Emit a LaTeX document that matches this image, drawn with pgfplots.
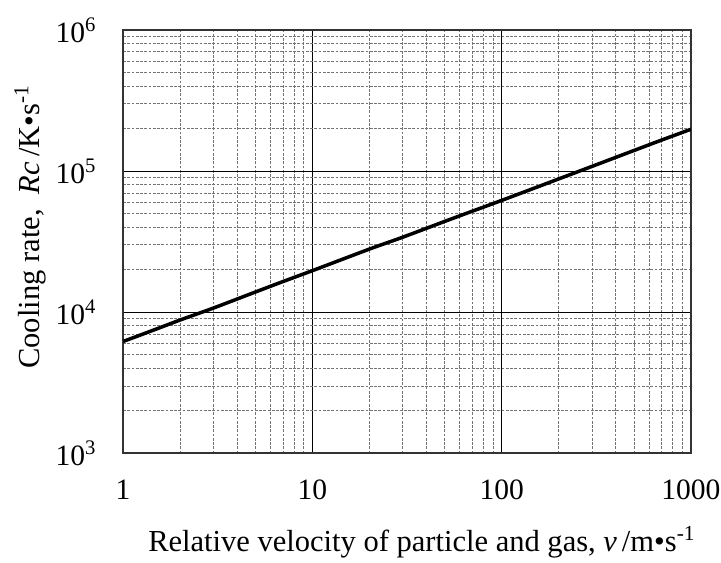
\documentclass[border=0pt]{standalone}
\usepackage{fontspec}
\setmainfont{Liberation Serif}
\usepackage{pgfplots}
\pgfplotsset{compat=1.18}
\begin{document}
\begin{tikzpicture}
\begin{loglogaxis}[
  scale only axis,
  width=227pt, height=169.2pt,
  xmin=1, xmax=1000, ymin=1e3, ymax=1e6,
  xtick={1,10,100,1000},
  xticklabels={1,10,100,1000},
  ytick={1e3,1e4,1e5,1e6},
  yticklabels={10\textsuperscript{3},10\textsuperscript{4},10\textsuperscript{5},10\textsuperscript{6}},
  major tick length=0pt, minor tick length=0pt,
  grid=both,
  major grid style={black, line width=0.45pt},
  minor grid style={gray!90!black, dash pattern=on 1.1pt off 0.6pt, line width=0.35pt},
  axis line style={gray!40!black, line width=0.9pt},
  tick label style={font=\fontsize{11.8}{13}\selectfont},
  xticklabel style={yshift=-7pt},
  yticklabel style={xshift=-7pt},
  label style={font=\fontsize{12.2}{14}\selectfont},
  xlabel={Relative velocity of particle and gas, \textit{v}\,/m•s\textsuperscript{-1}},
  ylabel={Cooling rate,\ \ \textit{Rc}\,/K•s\textsuperscript{-1}},
  xlabel style={yshift=-4pt, xshift=6pt},
  ylabel style={yshift=-3pt, xshift=6pt},
]
\addplot[black, line width=1.4pt, smooth] coordinates {
 (1,6200) (1.5,7600) (2,8800) (3,10700) (5,13900) (7,16500) (10,19700)
 (20,28000) (30,34000) (50,44000) (70,52000) (100,62000) (200,88000)
 (300,108000) (500,140000) (700,166000) (1000,198000)
};
\end{loglogaxis}
\pgfresetboundingbox
\path[use as bounding box] ([xshift=-49.2pt, yshift=-43.6pt]current axis.south west) rectangle ([xshift=12pt, yshift=12pt]current axis.north east);
\end{tikzpicture}
\end{document}
